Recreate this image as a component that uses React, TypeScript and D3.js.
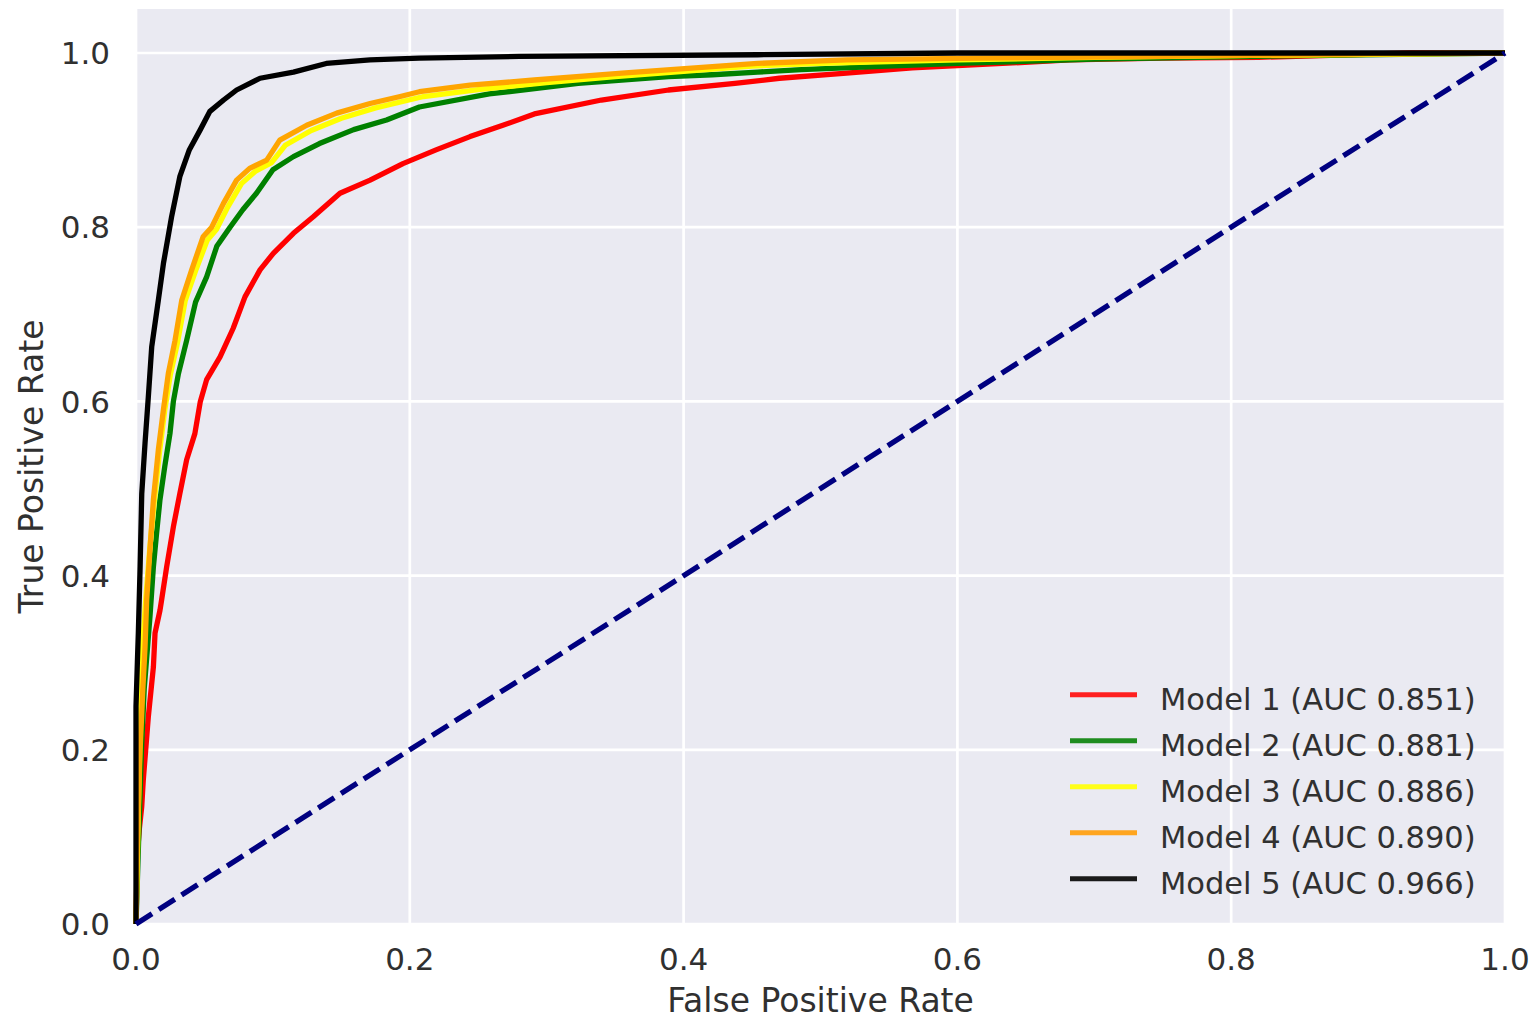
import React from "react";
import * as d3 from "d3";

const xTicks = [0, 0.2, 0.4, 0.6, 0.8, 1.0];
const yTicks = [0, 0.2, 0.4, 0.6, 0.8, 1.0];

const modelNames = [
  "Model 1 (AUC 0.851)",
  "Model 2 (AUC 0.881)",
  "Model 3 (AUC 0.886)",
  "Model 4 (AUC 0.890)",
  "Model 5 (AUC 0.966)",
];
const modelColors = ["#ff0000", "#008000", "#ffff00", "#ffa500", "#000000"];
const legendColors = ["#ff2020", "#1f8c1f", "#ffff1a", "#ffa51f", "#1a1a1a"];

const m1Fpr = [0, 0.001, 0.0025, 0.0042, 0.0053, 0.009, 0.0127, 0.0139, 0.0175, 0.0187, 0.0224, 0.0273, 0.032, 0.037, 0.043, 0.047, 0.0516, 0.0614, 0.071, 0.0796, 0.0906, 0.1003, 0.115, 0.1295, 0.149, 0.171, 0.195, 0.2196, 0.244, 0.268, 0.291, 0.34, 0.389, 0.4375, 0.47, 0.519, 0.567, 0.633, 0.682, 0.75, 0.82, 0.93, 1.0];
const m1Tpr = [0, 0.08, 0.11, 0.135, 0.165, 0.238, 0.295, 0.334, 0.36, 0.372, 0.41, 0.456, 0.494, 0.533, 0.563, 0.6, 0.625, 0.651, 0.684, 0.72, 0.751, 0.77, 0.793, 0.812, 0.839, 0.854, 0.873, 0.889, 0.904, 0.917, 0.93, 0.946, 0.9575, 0.965, 0.971, 0.977, 0.983, 0.988, 0.992, 0.994, 0.995, 1.0, 1.0];

const m2Fpr = [0, 0.002, 0.004, 0.006, 0.0102, 0.0127, 0.015, 0.0175, 0.021, 0.0248, 0.0273, 0.031, 0.037, 0.0435, 0.0516, 0.059, 0.0687, 0.078, 0.088, 0.1, 0.115, 0.134, 0.159, 0.183, 0.207, 0.258, 0.323, 0.389, 0.421, 0.454, 0.486, 0.535, 0.6, 0.7, 0.85, 1.0];
const m2Tpr = [0, 0.1, 0.2, 0.27, 0.353, 0.41, 0.448, 0.487, 0.525, 0.563, 0.6, 0.632, 0.67, 0.714, 0.743, 0.778, 0.8, 0.82, 0.839, 0.866, 0.881, 0.896, 0.912, 0.923, 0.938, 0.953, 0.965, 0.973, 0.975, 0.978, 0.981, 0.984, 0.988, 0.993, 0.997, 1.0];

const m3Fpr = [0, 0.002, 0.004, 0.007, 0.01, 0.013, 0.017, 0.021, 0.025, 0.03, 0.036, 0.044, 0.052, 0.059, 0.067, 0.077, 0.087, 0.099, 0.109, 0.128, 0.15, 0.175, 0.21, 0.25, 0.3, 0.35, 0.4, 0.45, 0.5, 0.6, 0.7, 0.8, 1.0];
const m3Tpr = [0, 0.15, 0.3, 0.37, 0.43, 0.48, 0.54, 0.59, 0.63, 0.665, 0.716, 0.752, 0.785, 0.798, 0.823, 0.85, 0.864, 0.874, 0.894, 0.911, 0.925, 0.937, 0.95, 0.958, 0.966, 0.973, 0.979, 0.985, 0.988, 0.992, 0.995, 0.997, 1.0];

const m4Fpr = [0, 0.001, 0.003, 0.005, 0.0066, 0.0078, 0.0102, 0.0127, 0.0163, 0.02, 0.0236, 0.0285, 0.0334, 0.0407, 0.049, 0.0553, 0.0638, 0.0735, 0.083, 0.0955, 0.105, 0.1247, 0.1466, 0.171, 0.193, 0.207, 0.244, 0.291, 0.355, 0.454, 0.519, 0.617, 0.75, 0.9, 1.0];
const m4Tpr = [0, 0.1, 0.2, 0.27, 0.318, 0.372, 0.43, 0.487, 0.544, 0.59, 0.632, 0.67, 0.716, 0.751, 0.789, 0.8, 0.827, 0.854, 0.8675, 0.877, 0.9, 0.917, 0.931, 0.942, 0.95, 0.9555, 0.963, 0.969, 0.977, 0.988, 0.992, 0.994, 0.996, 0.999, 1.0];

const m5Fpr = [0, 0, 0.001, 0.0017, 0.003, 0.0042, 0.0066, 0.009, 0.0115, 0.0163, 0.02, 0.026, 0.032, 0.039, 0.047, 0.054, 0.064, 0.0735, 0.0906, 0.115, 0.139, 0.171, 0.207, 0.28, 0.454, 0.6, 1.0];
const m5Tpr = [0, 0.25, 0.3, 0.334, 0.41, 0.494, 0.552, 0.605, 0.663, 0.716, 0.758, 0.812, 0.858, 0.889, 0.912, 0.933, 0.946, 0.9575, 0.971, 0.978, 0.988, 0.992, 0.994, 0.996, 0.998, 1.0, 1.0];

const fprSeries = [m1Fpr, m2Fpr, m3Fpr, m4Fpr, m5Fpr];
const tprSeries = [m1Tpr, m2Tpr, m3Tpr, m4Tpr, m5Tpr];
const diagonal = [0, 1];

const W = 1534;
const H = 1036;
const left = 136;
const right = 1505;
const top = 9;
const bottom = 924;

export default function App() {
  const x = d3.scaleLinear().domain([0, 1]).range([left, right]);
  const y = d3.scaleLinear().domain([0, 1.0505]).range([bottom, top]);
  const line = d3
    .line<[number, number]>()
    .x((d) => x(d[0]))
    .y((d) => y(d[1]))
    .curve(d3.curveLinear);

  const font = "'DejaVu Sans', sans-serif";
  const textColor = "#303030";

  return (
    <svg
      width={W}
      height={H}
      style={{ position: "absolute", left: 0, top: 0, background: "#fff" }}
    >
      <rect x={left} y={top} width={right - left} height={bottom - top} fill="#eaeaf2" />
      {xTicks.map((t) => (
        <line key={"gx" + t} x1={x(t)} x2={x(t)} y1={top} y2={bottom} stroke="#fff" strokeWidth={2.7} />
      ))}
      {yTicks.map((t) => (
        <line key={"gy" + t} x1={left} x2={right} y1={y(t)} y2={y(t)} stroke="#fff" strokeWidth={2.7} />
      ))}
      {fprSeries.map((f, i) => (
        <path
          key={"m" + i}
          d={line(f.map((v, j) => [v, tprSeries[i][j]] as [number, number])) || ""}
          fill="none"
          stroke={modelColors[i]}
          strokeWidth={5.3}
          strokeLinejoin="round"
        />
      ))}
      <path
        d={line(diagonal.map((v) => [v, v] as [number, number])) || ""}
        fill="none"
        stroke="#000080"
        strokeWidth={5.3}
        strokeDasharray="19 8"
      />
      {xTicks.map((t) => (
        <text
          key={"tx" + t}
          x={x(t)}
          y={970}
          textAnchor="middle"
          fontFamily={font}
          fontSize={31}
          fill={textColor}
        >
          {t.toFixed(1)}
        </text>
      ))}
      {yTicks.map((t) => (
        <text
          key={"ty" + t}
          x={110}
          y={y(t)}
          dy="0.36em"
          textAnchor="end"
          fontFamily={font}
          fontSize={31}
          fill={textColor}
        >
          {t.toFixed(1)}
        </text>
      ))}
      <text
        x={(left + right) / 2}
        y={1012}
        textAnchor="middle"
        fontFamily={font}
        fontSize={33}
        fill={textColor}
      >
        False Positive Rate
      </text>
      <text
        transform={`translate(43, ${(top + bottom) / 2}) rotate(-90)`}
        textAnchor="middle"
        fontFamily={font}
        fontSize={33}
        fill={textColor}
      >
        True Positive Rate
      </text>
      {modelNames.map((n, i) => {
        const ly = 694.7 + i * 46;
        return (
          <g key={"lg" + i}>
            <line x1={1070} x2={1137} y1={ly} y2={ly} stroke={legendColors[i]} strokeWidth={5} />
            <text x={1160} y={ly + 15.5} fontFamily={font} fontSize={30.5} fill={textColor}>
              {n}
            </text>
          </g>
        );
      })}
    </svg>
  );
}
